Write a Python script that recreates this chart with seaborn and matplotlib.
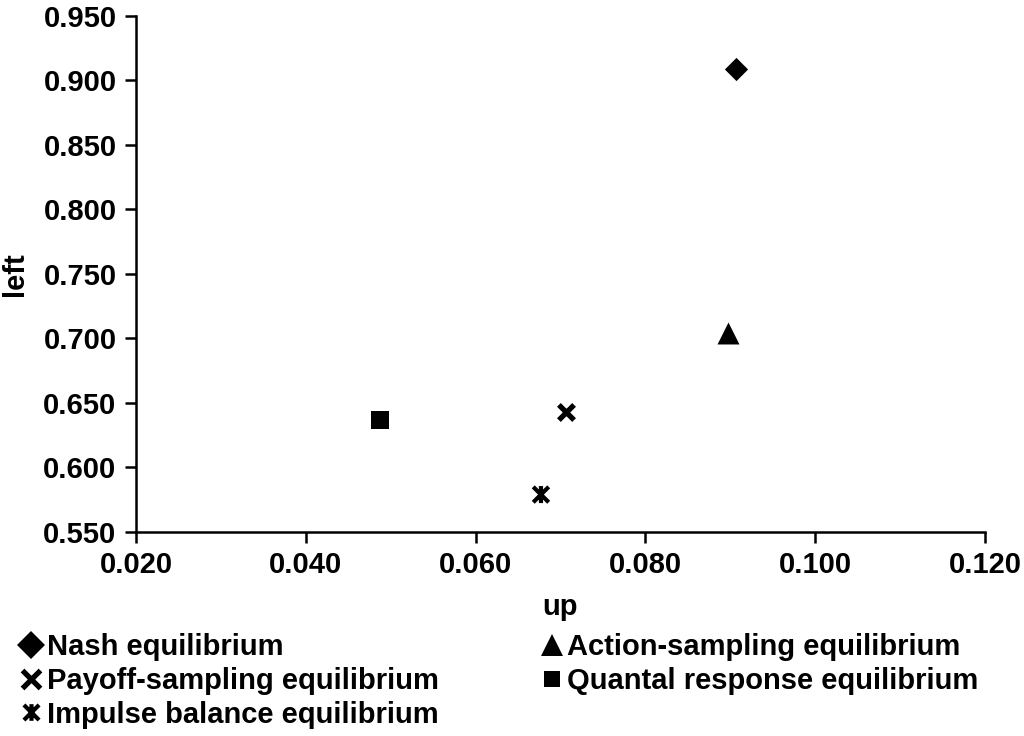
import numpy as np
import pandas as pd
import matplotlib
matplotlib.use('Agg')
import matplotlib.pyplot as plt
import seaborn as sns
from matplotlib.path import Path
from matplotlib.markers import MarkerStyle
from matplotlib.lines import Line2D

labels = ['Nash equilibrium', 'Action-sampling equilibrium', 'Payoff-sampling equilibrium',
          'Quantal response equilibrium', 'Impulse balance equilibrium']
up = [0.0907, 0.0897, 0.0707, 0.0488, 0.0677]
left = [0.909, 0.704, 0.643, 0.637, 0.579]

x_ticks = [0.020, 0.040, 0.060, 0.080, 0.100, 0.120]
y_ticks = [0.550, 0.600, 0.650, 0.700, 0.750, 0.800, 0.850, 0.900, 0.950]

df = pd.DataFrame({'label': labels, 'up': up, 'left': left})

# x with a vertical bar, like the spreadsheet "star" marker
star_path = Path([(-0.5, -0.5), (0.5, 0.5), (-0.5, 0.5), (0.5, -0.5), (0, -0.55), (0, 0.55)],
                 [Path.MOVETO, Path.LINETO, Path.MOVETO, Path.LINETO, Path.MOVETO, Path.LINETO])

styles = {
    'Nash equilibrium': dict(marker='D', s=140, linewidth=0),
    'Action-sampling equilibrium': dict(marker='^', s=250, linewidth=0),
    'Payoff-sampling equilibrium': dict(marker='x', s=120, linewidth=3.8),
    'Quantal response equilibrium': dict(marker='s', s=160, linewidth=0),
    'Impulse balance equilibrium': dict(marker=MarkerStyle(star_path, fillstyle='none'), s=150, linewidth=3.0),
}

FS = 21

sns.set_style('white')
plt.rcParams['font.family'] = ['Liberation Sans', 'DejaVu Sans']
plt.rcParams['font.weight'] = 'bold'
for key in ['text.color', 'axes.labelcolor', 'xtick.color', 'ytick.color']:
    plt.rcParams[key] = 'black'

fig = plt.figure(figsize=(10.24, 7.36), dpi=100)
ax = fig.add_axes([0.1328, 0.2772, 0.8291, 0.7011])

for lab in labels:
    sub = df[df['label'] == lab]
    sns.scatterplot(data=sub, x='up', y='left', color='black', ax=ax, **styles[lab])

ax.set_xlim(0.020, 0.120)
ax.set_ylim(0.550, 0.950)
ax.set_xticks(x_ticks)
ax.set_yticks(y_ticks)
ax.set_xticklabels([f'{v:.3f}' for v in x_ticks], fontsize=FS, fontweight='bold')
ax.set_yticklabels([f'{v:.3f}' for v in y_ticks], fontsize=FS, fontweight='bold')
ax.set_xlabel('up', fontsize=FS, fontweight='bold', labelpad=10)
ax.set_ylabel('left', fontsize=FS, fontweight='bold', labelpad=10)
ax.tick_params(axis='both', direction='out', length=8, width=1.8, colors='black', pad=6,
               bottom=True, left=True)
for side in ['top', 'right']:
    ax.spines[side].set_visible(False)
for side in ['left', 'bottom']:
    ax.spines[side].set_color('black')
    ax.spines[side].set_linewidth(1.8)

def handle(lab):
    m = styles[lab]['marker']
    if lab == 'Impulse balance equilibrium':
        return Line2D([], [], linestyle='none', marker=star_path, fillstyle='none',
                      color='black', markersize=12, markeredgewidth=3.0)
    if lab == 'Payoff-sampling equilibrium':
        return Line2D([], [], linestyle='none', marker=m, color='black',
                      markersize=13, markeredgewidth=3.8)
    size = {'D': 14, '^': 16, 's': 12}[m]
    return Line2D([], [], linestyle='none', marker=m, color='black',
                  markersize=size, markeredgewidth=0)

col1 = [labels[0], labels[2], labels[4]]
col2 = [labels[1], labels[3]]
leg_kw = dict(frameon=False, handlelength=0.75, handletextpad=0.15,
              borderpad=0, borderaxespad=0, labelspacing=0.2, loc='upper left',
              prop={'weight': 'bold', 'size': FS})
fig.legend([handle(l) for l in col1], col1, bbox_to_anchor=(0.02, 0.140), labelcolor='black', **leg_kw)
fig.legend([handle(l) for l in col2], col2, bbox_to_anchor=(0.528, 0.140), labelcolor='black', **leg_kw)

fig.savefig('out.png', dpi=100)
